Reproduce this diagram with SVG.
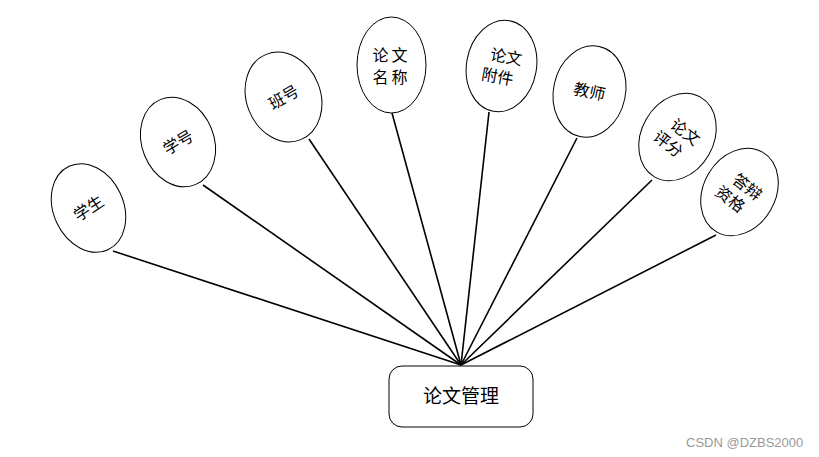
<svg xmlns="http://www.w3.org/2000/svg" width="819" height="457" viewBox="0 0 819 457">
<style>
.e{fill:#fff;stroke:#000;stroke-width:1}
.t{font-family:"Noto Sans CJK SC","Liberation Sans",sans-serif;font-size:16px;fill:#000;text-anchor:middle}
.c line{stroke:#000;stroke-width:1.6}
.wm{font-family:"Liberation Sans",sans-serif;font-size:13px;fill:#999}
</style>
<rect width="819" height="457" fill="#fff"/>
<g class="c" id="connectors">
<line x1="113" y1="251" x2="461" y2="365"/>
<line x1="203" y1="185" x2="461" y2="365"/>
<line x1="309" y1="139" x2="461" y2="365"/>
<line x1="392" y1="113" x2="461" y2="365"/>
<line x1="489" y1="112" x2="461" y2="365"/>
<line x1="577" y1="138" x2="461" y2="365"/>
<line x1="652" y1="180" x2="461" y2="365"/>
<line x1="716" y1="235" x2="461" y2="365"/>
</g>
<g id="n-xuesheng" transform="translate(88.5,208) rotate(-25)">
<ellipse class="e" rx="35" ry="46"/>
<text class="t" x="0" y="6" transform="rotate(-8)">学生</text>
</g>
<g id="n-xuehao" transform="translate(178,142) rotate(-22)">
<ellipse class="e" rx="36" ry="46"/>
<text class="t" x="0" y="6" transform="rotate(-8)">学号</text>
</g>
<g id="n-banhao" transform="translate(283.5,97) rotate(-22)">
<ellipse class="e" rx="37" ry="46"/>
<text class="t" x="0" y="6" transform="rotate(-8)">班号</text>
</g>
<g id="n-mingcheng" transform="translate(391.5,65)">
<ellipse class="e" rx="34.5" ry="48"/>
<text class="t" x="0" y="-4" letter-spacing="3">论文</text>
<text class="t" x="0" y="18" letter-spacing="3">名称</text>
</g>
<g id="n-fujian" transform="translate(501.5,66) rotate(10)">
<ellipse class="e" rx="35" ry="46"/>
<text class="t" x="3" y="-4">论文</text>
<text class="t" x="-2" y="17">附件</text>
</g>
<g id="n-jiaoshi" transform="translate(589.5,91.5) rotate(12)">
<ellipse class="e" rx="36" ry="46"/>
<text class="t" x="0" y="6">教师</text>
</g>
<g id="n-pingfen" transform="translate(677.5,137) rotate(30)">
<ellipse class="e" rx="36" ry="46"/>
<text class="t" x="3" y="-3" transform="rotate(8)">论文</text>
<text class="t" x="-3" y="17" transform="rotate(8)">评分</text>
</g>
<g id="n-dabian" transform="translate(739.5,192) rotate(30)">
<ellipse class="e" rx="36" ry="46"/>
<text class="t" x="3" y="-3" transform="rotate(8)">答辩</text>
<text class="t" x="-3" y="17" transform="rotate(8)">资格</text>
</g>
<g id="n-main">
<rect x="389" y="366" width="144" height="61" rx="13" fill="#fff" stroke="#000" stroke-width="1"/>
<text class="t" x="461" y="403" style="font-size:19px">论文管理</text>
</g>
<text class="wm" x="686" y="447">CSDN @DZBS2000</text>
</svg>
